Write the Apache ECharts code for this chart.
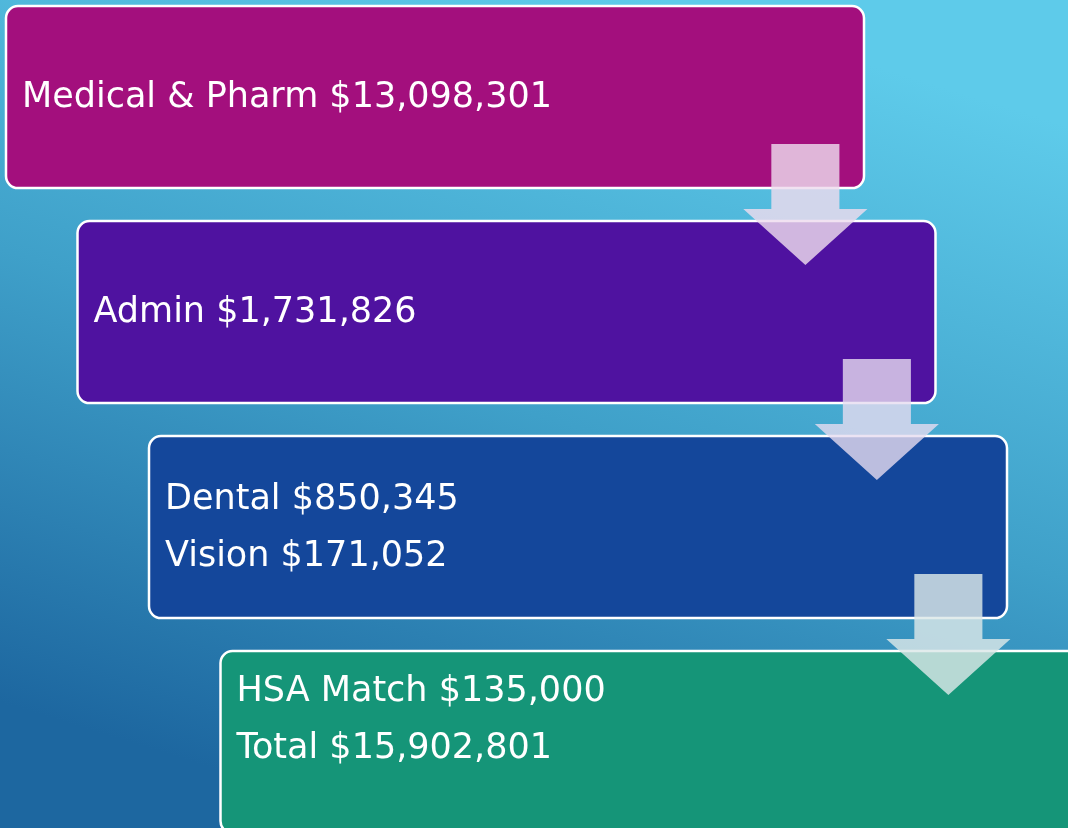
<!DOCTYPE html>
<html>
<head>
<meta charset="utf-8">
<script src="https://cdn.jsdelivr.net/npm/echarts@6/dist/echarts.min.js"></script>
<style>
  html, body { margin: 0; padding: 0; }
  #chart { width: 1068px; height: 828px; }
</style>
</head>
<body>
<div id="chart"></div>
<script>
// one entry per text line, box tells which step it sits in
const lineLabels = ["Medical & Pharm", "Admin", "Dental", "Vision", "HSA Match", "Total"];
const lineValues = [13098301, 1731826, 850345, 171052, 135000, 15902801];
const lineBox = [0, 1, 2, 2, 3, 3];
const steps = [0, 1, 2, 3];

const boxColors = ["#a30f7d", "#4f12a0", "#14479b", "#159578"];
const arrowColors = ["rgba(238,220,238,0.82)", "rgba(230,220,240,0.8)", "rgba(220,232,232,0.82)"];

const fmt = (v) => "$" + v.toLocaleString("en-US");

const boxes = steps.map((s) => ({
  step: s,
  lines: lineLabels
    .map((l, i) => ({ text: l + " " + fmt(lineValues[i]), box: lineBox[i] }))
    .filter((l) => l.box === s)
    .map((l) => l.text),
}));

// step units: x 1 unit = one indent (71.5px), y 1 unit = one row (215px)
const BOX_W = 12;
const BOX_H = 0.847;
const SHAFT_X = 11.18;

const chartDom = document.getElementById("chart");
const myChart = echarts.init(chartDom);

const option = {
  animation: false,
  backgroundColor: new echarts.graphic.LinearGradient(0.62, 0, 0.38, 1, [
    { offset: 0, color: "#5ecbea" },
    { offset: 0.5, color: "#3fa0c9" },
    { offset: 1, color: "#1d67a0" },
  ]),
  grid: { left: 6, top: 6, right: 0, bottom: 0 },
  xAxis: { type: "value", min: 0, max: 1062 / 71.5, show: false },
  yAxis: { type: "value", min: 0, max: 822 / 215, inverse: true, show: false },
  series: [
    {
      type: "custom",
      clip: false,
      data: boxes.map((b) => [b.step, b.step]),
      renderItem: (params, api) => {
        const s = api.value(0);
        const tl = api.coord([s, s]);
        const br = api.coord([s + BOX_W, s + BOX_H]);
        const lines = boxes[params.dataIndex].lines;
        const rowGap = 57;
        const children = [
          {
            type: "rect",
            shape: { x: tl[0], y: tl[1], width: br[0] - tl[0], height: br[1] - tl[1], r: 12 },
            style: { fill: boxColors[s], stroke: "#ffffff", lineWidth: 2.5 },
          },
        ];
        const centerY = s === 3 ? tl[1] + 69 : (tl[1] + br[1]) / 2 + 1;
        lines.forEach((t, j) => {
          children.push({
            type: "text",
            x: tl[0] + 16,
            y: centerY + (j - (lines.length - 1) / 2) * rowGap,
            style: {
              text: t,
              fill: "#ffffff",
              font: "35px 'DejaVu Sans', sans-serif",
              verticalAlign: "middle",
              align: "left",
            },
          });
        });
        return { type: "group", children };
      },
      z: 2,
    },
    {
      type: "custom",
      clip: false,
      data: steps.slice(0, 3).map((s) => [s, s]),
      renderItem: (params, api) => {
        const s = api.value(0);
        const cx = s + SHAFT_X;
        const shaftTop = api.coord([cx - 0.476, s + 0.642]);
        const shaftR = api.coord([cx + 0.476, s + 0.944]);
        const headL = api.coord([cx - 0.868, s + 0.944]);
        const headR = api.coord([cx + 0.868, s + 0.944]);
        const tip = api.coord([cx, s + 1.205]);
        return {
          type: "polygon",
          shape: {
            points: [
              [shaftTop[0], shaftTop[1]],
              [shaftR[0], shaftTop[1]],
              [shaftR[0], shaftR[1]],
              [headR[0], headR[1]],
              tip,
              [headL[0], headL[1]],
              [shaftTop[0], shaftR[1]],
            ],
          },
          style: { fill: arrowColors[s] },
        };
      },
      z: 3,
    },
  ],
};

option && myChart.setOption(option);
</script>
</body>
</html>
